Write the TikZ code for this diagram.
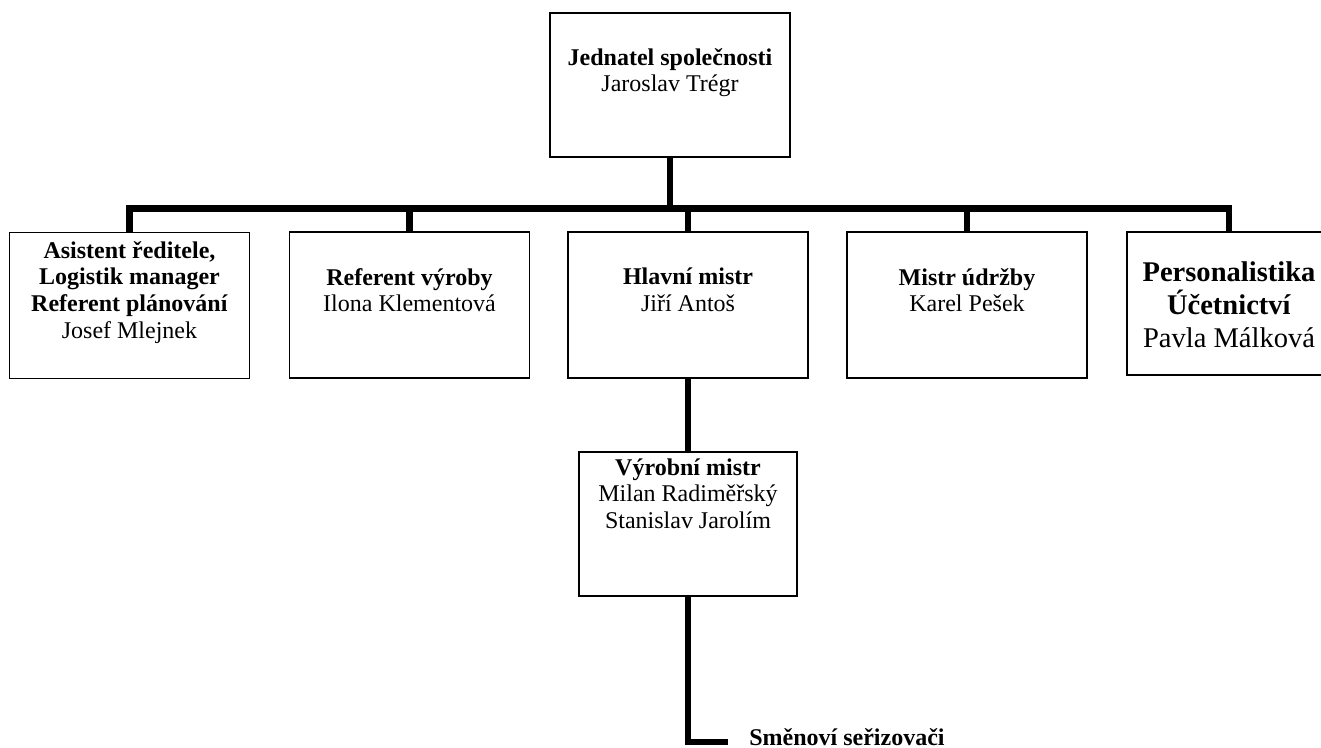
\documentclass[tikz,border=0pt]{standalone}
\usepackage{fontspec}
\setmainfont{Liberation Serif}
\newcommand\firstline{\rule{0pt}{1em}}
\begin{document}
\begin{tikzpicture}[x=0.75pt,y=-0.75pt,
  box/.style={draw=black, line width=1.4pt, fill=white, rectangle, inner sep=0pt,
              minimum width=180pt, minimum height=109.5pt},
  link/.style={line width=5.2pt, line join=miter},
  lbl/.style={anchor=north, inner sep=0pt, align=center, font=\fontsize{18}{20}\selectfont},
  lblbig/.style={anchor=north, inner sep=0pt, align=center, font=\fontsize{21.4}{24.4}\selectfont}]

\useasboundingbox (0,0) rectangle (1321,748);
\clip (0,0) rectangle (1321,748);
\fill[white] (0,0) rectangle (1321,748);

% boxes
\node[box, minimum height=108pt] (top) at (670,85) {};
\node[box] (b1) at (129.5,305.5) {};
\node[box] (b2) at (409.5,305) {};
\node[box] (b3) at (688,305) {};
\node[box] (b4) at (967,305) {};
\node[box, minimum width=153pt, minimum height=107.25pt] (b5) at (1229,303.5) {};
\node[box, minimum width=163.5pt, minimum height=108pt] (b6) at (688,524) {};

% box texts
\node[lbl] (top-t) at (670,41) {\firstline\textbf{Jednatel společnosti}\\Jaroslav Trégr};
\node[lbl] (b1-t) at (129.5,234) {\firstline\textbf{Asistent ředitele,}\\\textbf{Logistik manager}\\\textbf{Referent plánování}\\Josef Mlejnek};
\node[lbl] (b2-t) at (409.5,261) {\firstline\textbf{Referent výroby}\\Ilona Klementová};
\node[lbl] (b3-t) at (688,260.5) {\firstline\textbf{Hlavní mistr}\\Jiří Antoš};
\node[lbl] (b4-t) at (967,261) {\firstline\textbf{Mistr údržby}\\Karel Pešek};
\node[lblbig] (b5-t) at (1229,253.2) {\firstline\textbf{Personalistika}\\\textbf{Účetnictví}\\Pavla Málková};
\node[lbl] (b6-t) at (688,451) {\firstline\textbf{Výrobní mistr}\\Milan Radiměřský\\Stanislav Jarolím};
\node[anchor=base west, inner sep=0pt, font=\fontsize{18}{20}\selectfont\bfseries] (shift) at (749,745) {Směnoví seřizovači};

% junctions on the bus
\coordinate (busL) at (129.5,208.5);
\coordinate (busR) at (1229,208.5);
\coordinate (jTop) at (670,208.5);
\coordinate (j2) at (409.5,208.5);
\coordinate (j3) at (688,208.5);
\coordinate (j4) at (967,208.5);
\coordinate (lend) at (728,742);

% connectors
\draw[link] (b1.north) -- (busL) -- (busR) -- (b5.north);
\draw[link] (top.south) -- (jTop);
\draw[link] (b2.north) -- (j2);
\draw[link] (b3.north) -- (j3);
\draw[link] (b4.north) -- (j4);
\draw[link] (b3.south) -- (b6.north);
\draw[link] (b6.south) |- (lend);
\end{tikzpicture}
\end{document}
